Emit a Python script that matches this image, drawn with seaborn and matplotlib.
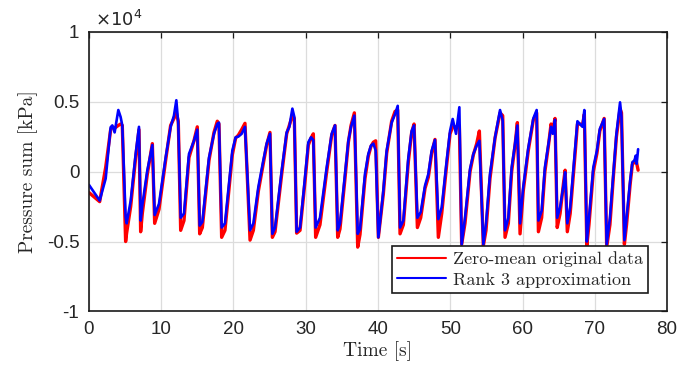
import matplotlib
matplotlib.use("Agg")
import matplotlib.pyplot as plt
import seaborn as sns

# Vertices (time in s, pressure in units of 1e4 kPa)
time_s = [0.00, 1.48, 2.31, 3.00, 3.23, 3.55, 4.06, 4.38, 4.61, 5.07, 5.21, 5.77, 6.46, 6.92,
          7.15, 7.38, 8.07, 8.77, 9.09, 9.69, 10.61, 11.30, 11.76, 12.09, 12.36, 12.69, 13.15,
          13.84, 14.53, 14.99, 15.32, 15.69, 16.61, 17.30, 17.76, 17.99, 18.36, 18.82, 19.84,
          20.30, 20.67, 21.13, 21.59, 22.29, 22.75, 23.44, 24.13, 24.59, 25.05, 25.38, 25.75,
          26.67, 27.36, 27.73, 28.15, 28.42, 28.74, 29.21, 29.90, 30.36, 30.73, 31.05, 31.37,
          31.97, 32.90, 33.59, 34.05, 34.42, 34.74, 35.43, 35.90, 36.27, 36.73, 37.19, 37.51,
          38.20, 38.66, 39.03, 39.36, 39.68, 40.05, 40.74, 41.20, 41.89, 42.36, 42.73, 43.05,
          43.51, 44.20, 44.66, 44.99, 45.45, 45.91, 46.51, 46.97, 47.43, 47.89, 48.35, 48.82,
          49.51, 49.97, 50.34, 50.80, 51.26, 51.58, 52.04, 52.74, 53.20, 53.66, 54.03, 54.58,
          54.95, 55.50, 56.20, 56.89, 57.26, 57.58, 58.04, 58.50, 58.97, 59.29, 59.66, 60.10,
          60.80, 61.50, 61.96, 62.20, 62.65, 63.10, 63.60, 63.95, 64.20, 64.50, 64.80, 65.20,
          65.70, 65.90, 66.20, 66.60, 67.30, 67.60, 67.96, 68.30, 68.56, 68.90, 69.20, 69.80,
          70.30, 70.70, 71.30, 71.65, 72.10, 72.60, 73.00, 73.50, 73.70, 74.10, 74.40, 74.90,
          75.20, 75.50, 75.67, 75.80, 76.00]

original = [-0.15, -0.215, 0.03, 0.30, 0.32, 0.31, 0.33, 0.34, 0.33, -0.50, -0.44, -0.25, 0.10, 0.30,
            -0.43, -0.30, -0.02, 0.20, -0.37, -0.27, 0.08, 0.33, 0.38, 0.42, 0.36, -0.42, -0.35,
            0.10, 0.22, 0.32, -0.445, -0.40, 0.08, 0.28, 0.36, 0.34, -0.47, -0.42, 0.12,
            0.24, 0.26, 0.30, 0.345, -0.49, -0.42, -0.14, 0.06, 0.19, 0.28, -0.47, -0.43,
            -0.02, 0.27, 0.33, 0.40, 0.38, -0.44, -0.42, -0.07, 0.19, 0.24, 0.27, -0.47,
            -0.38, 0.00, 0.26, 0.33, -0.47, -0.41, -0.05, 0.21, 0.33, 0.42, -0.54, -0.45,
            -0.05, 0.11, 0.18, 0.21, 0.22, -0.47, -0.16, 0.13, 0.36, 0.43, 0.44, -0.445,
            -0.38, 0.07, 0.28, 0.34, -0.40, -0.33, -0.12, -0.04, 0.13, 0.23, -0.47, -0.30,
            0.05, 0.27, 0.32, 0.32, 0.33, -0.52, -0.37, 0.00, 0.12, 0.20, 0.29, -0.53,
            -0.42, -0.05, 0.24, 0.42, 0.40, -0.47, -0.37, 0.00, 0.19, 0.35, -0.445, -0.14,
            0.15, 0.37, 0.42, -0.43, -0.33, 0.00, 0.19, 0.34, 0.30, 0.38, -0.40, -0.30,
            -0.07, 0.01, -0.43, -0.30, 0.14, 0.34, 0.34, 0.33, 0.41, -0.53, -0.38, 0.00,
            0.13, 0.29, 0.38, -0.54, -0.38, -0.02, 0.25, 0.45, 0.42, -0.52, -0.38, -0.09,
            0.05, 0.07, 0.09, 0.06, 0.01]

rank3 = [-0.095, -0.207, -0.05, 0.317, 0.33, 0.28, 0.44, 0.39, 0.33, -0.326, -0.37, -0.21, 0.126, 0.32,
         -0.35, -0.24, 0.007, 0.19, -0.31, -0.23, 0.10, 0.32, 0.40, 0.51, 0.34, -0.33, -0.30,
         0.126, 0.22, 0.30, -0.386, -0.36, 0.10, 0.27, 0.34, 0.35, -0.40, -0.37, 0.15,
         0.245, 0.25, 0.27, 0.32, -0.42, -0.37, -0.11, 0.08, 0.20, 0.27, -0.445, -0.40,
         0.007, 0.28, 0.32, 0.45, 0.39, -0.43, -0.40, -0.04, 0.21, 0.245, 0.226, -0.40,
         -0.33, 0.03, 0.27, 0.33, -0.42, -0.37, -0.017, 0.22, 0.32, 0.40, -0.445, -0.41,
         -0.017, 0.126, 0.186, 0.20, 0.15, -0.47, -0.136, 0.15, 0.35, 0.41, 0.47, -0.40,
         -0.35, 0.10, 0.29, 0.33, -0.33, -0.29, -0.10, -0.017, 0.15, 0.226, -0.34, -0.255,
         0.08, 0.29, 0.376, 0.27, 0.46, -0.52, -0.33, 0.02, 0.126, 0.186, 0.22, -0.52,
         -0.37, -0.017, 0.245, 0.44, 0.364, -0.42, -0.33, 0.03, 0.20, 0.33, -0.37, -0.11,
         0.17, 0.38, 0.44, -0.35, -0.28, 0.03, 0.20, 0.32, 0.27, 0.37, -0.33, -0.255,
         -0.09, -0.005, -0.37, -0.255, 0.17, 0.36, 0.34, 0.32, 0.44, -0.50, -0.33, 0.03,
         0.15, 0.305, 0.376, -0.52, -0.33, 0.007, 0.27, 0.495, 0.39, -0.49, -0.33, -0.064,
         0.067, 0.08, 0.114, 0.055, 0.16]

x_ticks = [0, 10, 20, 30, 40, 50, 60, 70, 80]
y_ticks = [-1, -0.5, 0, 0.5, 1]
y_tick_labels = ["-1", "-0.5", "0", "0.5", "1"]

scale = 1e4
original_kpa = [v * scale for v in original]
rank3_kpa = [v * scale for v in rank3]

sns.set_style("white")
plt.rcParams["font.family"] = ["Liberation Sans", "DejaVu Sans"]

fig = plt.figure(figsize=(6.93, 3.71), dpi=100)
ax = fig.add_axes([0.1284, 0.1604, 0.8341, 0.7542])

sns.lineplot(x=time_s, y=original_kpa, ax=ax, color=(1, 0, 0), linewidth=2.4,
             sort=False, estimator=None, label="Zero-mean original data")
sns.lineplot(x=time_s, y=rank3_kpa, ax=ax, color=(0, 0, 1), linewidth=1.9,
             sort=False, estimator=None, label="Rank 3 approximation")

ax.set_xlim(0, 80)
ax.set_ylim(-1 * scale, 1 * scale)
ax.set_xticks(x_ticks)
ax.set_xticklabels([str(t) for t in x_ticks])
ax.set_yticks([v * scale for v in y_ticks])
ax.set_yticklabels(y_tick_labels)

ax.grid(True, color="#dcdcdc", linewidth=0.9)
ax.set_axisbelow(True)
for s in ax.spines.values():
    s.set_color("#1a1a1a")
    s.set_linewidth(1.2)
ax.tick_params(direction="in", length=4, width=0.9, color="#1a1a1a",
               top=True, right=True, labelsize=13.5, labelcolor="#262626", pad=7)

ax.set_xlabel("Time [s]", fontfamily="cmr10", fontsize=14, labelpad=2)
ax.set_ylabel("Pressure sum [kPa]", fontfamily="cmr10", fontsize=14, labelpad=6)
ax.text(0.01, 1.005, r"$\times10^{4}$", transform=ax.transAxes, ha="left", va="bottom",
        fontsize=13, color="#262626")

leg = ax.legend(loc="lower right", bbox_to_anchor=(0.967, 0.066), borderaxespad=0,
                fancybox=False, framealpha=1, edgecolor="#1a1a1a",
                prop={"family": "cmr10", "size": 13}, handlelength=2.7,
                handletextpad=0.35, labelspacing=0.25, borderpad=0.3)
leg.get_frame().set_linewidth(1.2)
for line in leg.get_lines():
    line.set_linewidth(1.5)

fig.savefig("out.png", dpi=100)
